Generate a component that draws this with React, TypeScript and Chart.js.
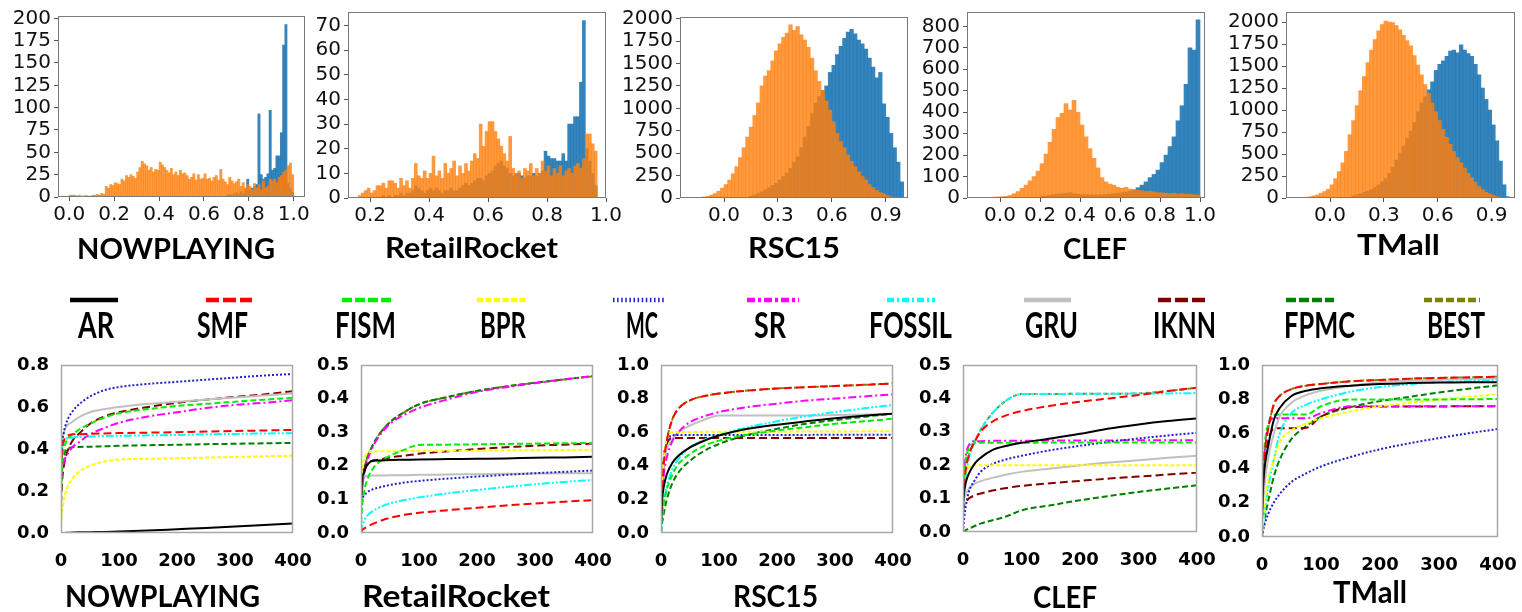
import React, { useEffect, useRef } from "react";
import { Chart, registerables } from "chart.js";

Chart.register(...registerables);

// ===================== TOP ROW: histograms (bin width, first bin edge, counts) =====================
const NP_BIN = 0.01;
const NP_ORANGE_START = 0.0;
const NP_ORANGE = [
  2, 2, 2, 1, 2, 1, 1, 2, 1, 1,
  2, 2, 3, 2, 4, 3, 12, 10, 14, 13,
  16, 15, 14, 20, 18, 24, 22, 25, 23, 21,
  28, 33, 40, 37, 35, 30, 33, 28, 31, 30,
  39, 36, 33, 30, 27, 32, 25, 28, 24, 30,
  26, 27, 24, 20, 22, 26, 19, 25, 20, 21,
  26, 20, 21, 18, 22, 24, 19, 31, 20, 17,
  14, 22, 18, 15, 17, 20, 12, 16, 10, 14,
  12, 8, 15, 10, 14, 8, 18, 10, 12, 20,
  18, 20, 16, 22, 24, 28, 30, 35, 38, 25,
];
const NP_BLUE_START = 0.7;
const NP_BLUE = [
  2, 3, 2, 4, 5, 3, 6, 4, 8, 20,
  8, 10, 12, 14, 93, 25, 20, 22, 26, 97,
  30, 32, 46, 46, 72, 170, 193, 15, 10, 5,
];

const RR_BIN = 0.01;
const RR_ORANGE_START = 0.16;
const RR_ORANGE = [
  1, 2, 3, 4, 2, 3, 5, 5, 6, 4,
  7, 7, 6, 4, 8, 5, 7, 4, 8, 14,
  9, 8, 11, 8, 10, 17, 9, 11, 8, 14,
  10, 12, 15, 9, 13, 10, 14, 11, 15, 18,
  16, 30, 21, 27, 31, 31, 27, 24, 21, 18,
  15, 25, 12, 10, 11, 8, 12, 11, 14, 9,
  12, 10, 15, 11, 13, 9, 12, 10, 13, 9,
  11, 12, 10, 13, 14, 12, 16, 26, 26, 22, 19,
];
const RR_BLUE_START = 0.16;
const RR_BLUE = [
  0, 0, 0, 0, 0, 0, 0, 0, 1, 0,
  1, 0, 1, 1, 2, 1, 2, 2, 3, 5,
  4, 3, 2, 3, 4, 3, 4, 3, 2, 3,
  3, 4, 3, 3, 4, 5, 6, 5, 6, 7,
  8, 8, 7, 9, 10, 11, 13, 14, 15, 13,
  12, 10, 9, 10, 10, 9, 8, 9, 9, 10,
  9, 10, 11, 19, 17, 16, 16, 15, 15, 18,
  15, 30, 30, 33, 33, 47, 72, 20, 15, 10, 5,
];

const RSC_BIN = 0.02;
const RSC_ORANGE_START = -0.14;
const RSC_ORANGE = [
  5, 12, 20, 32, 50, 75, 110, 150, 200, 270,
  350, 450, 560, 680, 790, 920, 1060, 1250, 1360, 1420,
  1530, 1640, 1720, 1790, 1840, 1930, 1870, 1910, 1820, 1760,
  1680, 1560, 1420, 1300, 1200, 1080, 980, 850, 720, 630,
  560, 480, 410, 350, 290, 240, 200, 150, 115, 85,
  60, 45, 28, 15,
];
const RSC_BLUE_START = 0.14;
const RSC_BLUE = [
  20, 35, 50, 70, 90, 115, 140, 165, 200, 240,
  280, 330, 400, 460, 560, 680, 800, 940, 1060, 1130,
  1200, 1250, 1400, 1480, 1600, 1690, 1780, 1850, 1880, 1830,
  1760, 1720, 1660, 1560, 1460, 1340, 1400, 1050, 900, 720,
  560, 400, 180,
];

const CLEF_BIN = 0.02;
const CLEF_ORANGE_START = -0.08;
const CLEF_ORANGE = [
  2, 3, 4, 5, 6, 8, 12, 20, 30, 45,
  60, 80, 100, 125, 160, 205, 260, 320, 375, 395,
  440, 410, 455, 400, 340, 285, 230, 185, 140, 95,
  75, 65, 60, 50, 45, 50, 42, 38, 36, 34,
  30, 32, 28, 25, 24, 22, 20, 22, 18, 20,
  17, 18, 15, 14,
];
const CLEF_BLUE_START = 0.2;
const CLEF_BLUE = [
  8, 10, 12, 15, 18, 20, 22, 25, 20, 18,
  16, 15, 14, 13, 14, 15, 16, 18, 20, 22,
  25, 28, 32, 38, 48, 60, 75, 95, 110, 130,
  165, 200, 240, 285, 360, 430, 530, 700, 690, 830,
];

const TM_BIN = 0.02;
const TM_ORANGE_START = -0.14;
const TM_ORANGE = [
  8, 15, 25, 35, 55, 75, 100, 150, 220, 300,
  400, 530, 720, 880, 1050, 1220, 1380, 1540, 1680, 1800,
  1900, 1970, 2010, 2000, 1995, 1960, 1910, 1850, 1790, 1730,
  1620, 1510, 1400, 1290, 1190, 1080, 980, 880, 780, 690,
  610, 530, 460, 400, 340, 280, 230, 180, 130, 95,
  65, 45, 28, 15,
];
const TM_BLUE_START = 0.12;
const TM_BLUE = [
  25, 38, 50, 65, 80, 95, 120, 150, 185, 220,
  280, 350, 430, 510, 590, 680, 760, 860, 980, 1080,
  1150, 1230, 1320, 1450, 1520, 1560, 1610, 1670, 1680, 1650,
  1740, 1680, 1640, 1610, 1520, 1400, 1250, 1120, 1000, 830,
  650, 420, 150, 15,
];

// tick values
const HX_TICKS_A = [0, 0.2, 0.4, 0.6, 0.8, 1.0];
const HX_TICKS_B = [0.2, 0.4, 0.6, 0.8, 1.0];
const HX_TICKS_C = [0, 0.3, 0.6, 0.9];
const HY_TICKS_NP = [0, 25, 50, 75, 100, 125, 150, 175, 200];
const HY_TICKS_RR = [0, 10, 20, 30, 40, 50, 60, 70];
const HY_TICKS_2000 = [0, 250, 500, 750, 1000, 1250, 1500, 1750, 2000];
const HY_TICKS_CLEF = [0, 100, 200, 300, 400, 500, 600, 700, 800];

// ===================== BOTTOM ROW: curves =====================
const LINE_X = [0, 2, 5, 10, 20, 30, 50, 75, 100, 150, 200, 250, 300, 350, 400];
const LX_TICKS = [0, 100, 200, 300, 400];
const LY_TICKS_08 = [0, 0.2, 0.4, 0.6, 0.8];
const LY_TICKS_05 = [0, 0.1, 0.2, 0.3, 0.4, 0.5];
const LY_TICKS_10 = [0, 0.2, 0.4, 0.6, 0.8, 1.0];

const NP_AR = [0, 0, 0, 0.001, 0.002, 0.003, 0.004, 0.005, 0.007, 0.012, 0.018, 0.024, 0.031, 0.038, 0.045];
const NP_SMF = [0.3, 0.4, 0.44, 0.46, 0.47, 0.47, 0.472, 0.474, 0.476, 0.478, 0.48, 0.483, 0.486, 0.488, 0.491];
const NP_FISM = [0.2, 0.33, 0.4, 0.44, 0.47, 0.49, 0.52, 0.55, 0.57, 0.59, 0.605, 0.615, 0.625, 0.635, 0.643];
const NP_BPR = [0.04, 0.1, 0.16, 0.21, 0.26, 0.29, 0.32, 0.34, 0.35, 0.353, 0.356, 0.359, 0.362, 0.365, 0.368];
const NP_MC = [0.3, 0.42, 0.48, 0.53, 0.58, 0.61, 0.65, 0.68, 0.695, 0.71, 0.72, 0.73, 0.74, 0.75, 0.757];
const NP_SR = [0.25, 0.3, 0.34, 0.37, 0.41, 0.43, 0.47, 0.5, 0.525, 0.555, 0.575, 0.595, 0.61, 0.62, 0.632];
const NP_FOSSIL = [0.3, 0.4, 0.43, 0.45, 0.455, 0.458, 0.46, 0.462, 0.463, 0.465, 0.467, 0.47, 0.472, 0.474, 0.476];
const NP_GRU = [0.38, 0.44, 0.48, 0.51, 0.53, 0.55, 0.575, 0.59, 0.6, 0.615, 0.625, 0.635, 0.645, 0.655, 0.665];
const NP_IKNN = [0.14, 0.25, 0.32, 0.38, 0.44, 0.47, 0.52, 0.555, 0.575, 0.6, 0.62, 0.635, 0.648, 0.66, 0.675];
const NP_FPMC = [0.2, 0.32, 0.37, 0.4, 0.408, 0.41, 0.411, 0.413, 0.415, 0.418, 0.42, 0.423, 0.425, 0.427, 0.429];

const RR_AR = [0.1, 0.16, 0.18, 0.2, 0.215, 0.216, 0.217, 0.218, 0.219, 0.22, 0.221, 0.222, 0.224, 0.225, 0.227];
const RR_SMF = [0.0, 0.008, 0.013, 0.018, 0.027, 0.034, 0.045, 0.054, 0.06, 0.068, 0.075, 0.082, 0.088, 0.093, 0.098];
const RR_FISM = [0.03, 0.08, 0.12, 0.155, 0.19, 0.21, 0.23, 0.248, 0.262, 0.263, 0.264, 0.265, 0.266, 0.267, 0.268];
const RR_BPR = [0.12, 0.18, 0.22, 0.235, 0.242, 0.243, 0.243, 0.244, 0.244, 0.245, 0.245, 0.246, 0.246, 0.247, 0.248];
const RR_MC = [0.07, 0.1, 0.11, 0.12, 0.13, 0.135, 0.143, 0.15, 0.155, 0.162, 0.168, 0.173, 0.178, 0.182, 0.186];
const RR_SR = [0.08, 0.13, 0.17, 0.21, 0.255, 0.285, 0.325, 0.352, 0.372, 0.398, 0.42, 0.434, 0.446, 0.457, 0.467];
const RR_FOSSIL = [0.0, 0.02, 0.035, 0.05, 0.065, 0.075, 0.088, 0.098, 0.106, 0.118, 0.128, 0.137, 0.145, 0.152, 0.158];
const RR_GRU = [0.13, 0.16, 0.168, 0.17, 0.171, 0.171, 0.172, 0.172, 0.173, 0.174, 0.175, 0.176, 0.177, 0.178, 0.178];
const RR_IKNN = [0.15, 0.17, 0.19, 0.205, 0.215, 0.218, 0.225, 0.23, 0.236, 0.243, 0.25, 0.255, 0.26, 0.263, 0.266];
const RR_FPMC = [0.09, 0.14, 0.18, 0.22, 0.26, 0.29, 0.33, 0.36, 0.383, 0.405, 0.423, 0.436, 0.447, 0.457, 0.467];
const RR_BEST = [0.09, 0.14, 0.18, 0.22, 0.26, 0.29, 0.33, 0.36, 0.383, 0.405, 0.423, 0.436, 0.447, 0.457, 0.467];

const RSC_AR = [0.05, 0.2, 0.28, 0.35, 0.42, 0.46, 0.51, 0.55, 0.58, 0.62, 0.645, 0.665, 0.683, 0.698, 0.71];
const RSC_SMF = [0.05, 0.25, 0.42, 0.55, 0.68, 0.74, 0.79, 0.815, 0.83, 0.848, 0.86, 0.868, 0.875, 0.882, 0.89];
const RSC_FISM = [0.0, 0.1, 0.18, 0.26, 0.35, 0.41, 0.47, 0.52, 0.55, 0.585, 0.61, 0.63, 0.65, 0.665, 0.68];
const RSC_BPR = [0.1, 0.3, 0.45, 0.56, 0.6, 0.601, 0.601, 0.602, 0.602, 0.603, 0.603, 0.604, 0.604, 0.605, 0.605];
const RSC_MC = [0.1, 0.3, 0.45, 0.54, 0.582, 0.583, 0.583, 0.583, 0.584, 0.584, 0.584, 0.584, 0.585, 0.585, 0.585];
const RSC_SR = [0.05, 0.2, 0.35, 0.45, 0.55, 0.6, 0.66, 0.695, 0.72, 0.75, 0.77, 0.788, 0.8, 0.813, 0.825];
const RSC_FOSSIL = [0.0, 0.1, 0.18, 0.28, 0.38, 0.44, 0.51, 0.555, 0.585, 0.63, 0.665, 0.695, 0.72, 0.742, 0.762];
const RSC_GRU = [0.1, 0.3, 0.42, 0.5, 0.56, 0.6, 0.64, 0.675, 0.7, 0.7, 0.7, 0.7, 0.702, 0.705, 0.708];
const RSC_IKNN = [0.1, 0.3, 0.45, 0.53, 0.565, 0.565, 0.565, 0.565, 0.565, 0.565, 0.565, 0.566, 0.566, 0.566, 0.566];
const RSC_FPMC = [0.0, 0.06, 0.12, 0.2, 0.3, 0.36, 0.43, 0.49, 0.53, 0.585, 0.62, 0.65, 0.672, 0.692, 0.71];
const RSC_BEST = [0.05, 0.25, 0.42, 0.55, 0.68, 0.74, 0.79, 0.815, 0.83, 0.848, 0.86, 0.868, 0.875, 0.882, 0.89];

const CLEF_AR = [0.08, 0.12, 0.15, 0.175, 0.205, 0.222, 0.245, 0.258, 0.267, 0.28, 0.294, 0.31, 0.322, 0.332, 0.34];
const CLEF_SMF = [0.1, 0.15, 0.19, 0.23, 0.27, 0.3, 0.33, 0.35, 0.362, 0.378, 0.39, 0.4, 0.41, 0.422, 0.432];
const CLEF_FISM = [0.1, 0.17, 0.22, 0.25, 0.266, 0.267, 0.267, 0.267, 0.267, 0.268, 0.268, 0.268, 0.268, 0.268, 0.268];
const CLEF_BPR = [0.12, 0.16, 0.18, 0.195, 0.2, 0.2, 0.2, 0.2, 0.2, 0.2, 0.2, 0.2, 0.2, 0.2, 0.2];
const CLEF_MC = [0.0, 0.04, 0.08, 0.12, 0.155, 0.18, 0.203, 0.218, 0.228, 0.245, 0.258, 0.27, 0.28, 0.289, 0.297];
const CLEF_SR = [0.1, 0.18, 0.23, 0.26, 0.272, 0.272, 0.273, 0.273, 0.273, 0.274, 0.274, 0.274, 0.275, 0.275, 0.275];
const CLEF_FOSSIL = [0.05, 0.12, 0.17, 0.22, 0.27, 0.305, 0.355, 0.395, 0.413, 0.413, 0.414, 0.414, 0.415, 0.415, 0.416];
const CLEF_GRU = [0.08, 0.1, 0.115, 0.13, 0.145, 0.152, 0.162, 0.172, 0.18, 0.19, 0.2, 0.208, 0.215, 0.222, 0.228];
const CLEF_IKNN = [0.06, 0.08, 0.09, 0.1, 0.11, 0.115, 0.124, 0.132, 0.138, 0.146, 0.153, 0.16, 0.166, 0.172, 0.178];
const CLEF_FPMC = [0.0, 0.003, 0.006, 0.01, 0.018, 0.025, 0.035, 0.047, 0.065, 0.08, 0.095, 0.108, 0.12, 0.13, 0.14];
const CLEF_BEST = [0.1, 0.15, 0.19, 0.23, 0.27, 0.305, 0.355, 0.395, 0.413, 0.413, 0.414, 0.414, 0.415, 0.422, 0.432];

const TM_AR = [0.1, 0.3, 0.42, 0.52, 0.68, 0.75, 0.82, 0.85, 0.865, 0.88, 0.89, 0.895, 0.898, 0.9, 0.9];
const TM_SMF = [0.1, 0.35, 0.5, 0.62, 0.77, 0.82, 0.86, 0.88, 0.89, 0.905, 0.913, 0.92, 0.925, 0.928, 0.932];
const TM_FISM = [0.2, 0.4, 0.55, 0.65, 0.71, 0.712, 0.712, 0.712, 0.76, 0.8, 0.8, 0.8, 0.8, 0.801, 0.802];
const TM_BPR = [0.0, 0.1, 0.2, 0.32, 0.45, 0.55, 0.62, 0.66, 0.69, 0.73, 0.76, 0.78, 0.8, 0.815, 0.83];
const TM_MC = [0.0, 0.04, 0.08, 0.13, 0.2, 0.25, 0.32, 0.37, 0.41, 0.465, 0.51, 0.545, 0.575, 0.603, 0.628];
const TM_SR = [0.1, 0.35, 0.52, 0.64, 0.69, 0.69, 0.69, 0.69, 0.72, 0.76, 0.76, 0.76, 0.76, 0.76, 0.761];
const TM_FOSSIL = [0.0, 0.08, 0.16, 0.28, 0.45, 0.6, 0.72, 0.77, 0.8, 0.845, 0.872, 0.888, 0.9, 0.906, 0.912];
const TM_GRU = [0.05, 0.2, 0.32, 0.45, 0.6, 0.7, 0.78, 0.825, 0.85, 0.88, 0.9, 0.908, 0.914, 0.918, 0.921];
const TM_IKNN = [0.1, 0.3, 0.45, 0.55, 0.63, 0.632, 0.632, 0.635, 0.7, 0.755, 0.758, 0.758, 0.759, 0.76, 0.76];
const TM_FPMC = [0.0, 0.06, 0.12, 0.2, 0.35, 0.45, 0.57, 0.645, 0.7, 0.755, 0.79, 0.815, 0.84, 0.862, 0.882];
const TM_BEST = [0.1, 0.35, 0.5, 0.62, 0.77, 0.82, 0.86, 0.88, 0.89, 0.905, 0.913, 0.92, 0.925, 0.928, 0.932];

const SERIES_NAMES = ["AR", "SMF", "FISM", "BPR", "MC", "SR", "FOSSIL", "GRU", "IKNN", "FPMC", "BEST"];
const DATASET_NAMES = ["NOWPLAYING", "RetailRocket", "RSC15", "CLEF", "TMall"];

// ===================== styles =====================
const STYLE: Record<string, { color: string; dash: number[]; legendDash: string; width: number }> = {
  AR: { color: "#000000", dash: [], legendDash: "", width: 2 },
  SMF: { color: "#ff0000", dash: [8, 4], legendDash: "13 4", width: 2 },
  FISM: { color: "#00ee00", dash: [6, 3], legendDash: "10 3", width: 2 },
  BPR: { color: "#ffff00", dash: [4, 2], legendDash: "6 2.5", width: 2 },
  MC: { color: "#2020c8", dash: [2, 2], legendDash: "1.5 2.6", width: 2 },
  SR: { color: "#ff00ff", dash: [8, 3, 2, 3], legendDash: "8 3 3 3", width: 2 },
  FOSSIL: { color: "#00ffff", dash: [8, 2, 2, 2, 2, 2], legendDash: "7 3 2 3", width: 2 },
  GRU: { color: "#c0c0c0", dash: [], legendDash: "", width: 2 },
  IKNN: { color: "#800000", dash: [8, 4], legendDash: "13 4", width: 2 },
  FPMC: { color: "#008000", dash: [6, 3], legendDash: "10 3", width: 2 },
  BEST: { color: "#808000", dash: [4, 3], legendDash: "8 3", width: 2 },
};

type Rect = { l: number; t: number; r: number; b: number };
type Geo = { axW: number; padT: number; padR: number; axH: number };

const TOP_GEO: Geo = { axW: 72, padT: 10, padR: 22, axH: 40 };
const BOT_GEO: Geo = { axW: 62, padT: 12, padR: 24, axH: 36 };

const framePlugin = {
  id: "frame",
  afterDraw(chart: any, _args: any, opts: any) {
    const { ctx, chartArea: a } = chart;
    ctx.save();
    ctx.strokeStyle = opts.color || "#888";
    ctx.lineWidth = opts.width || 1;
    ctx.strokeRect(a.left + 0.5, a.top + 0.5, a.right - a.left - 1, a.bottom - a.top - 1);
    ctx.restore();
  },
};

const binPoints = (start: number, bin: number, vals: number[]) =>
  vals.map((v, i) => ({ x: Math.round((start + (i + 0.5) * bin) * 10000) / 10000, y: v }));

const fix1 = (v: number) => (Math.abs(v) < 1e-9 ? 0 : v).toFixed(1);
const setTicks = (vals: number[]) => (s: any) => { s.ticks = vals.map((v) => ({ value: v })); };

type HistSpec = {
  rect: Rect; xMin: number; xMax: number; xTicks: number[]; yMax: number; yTicks: number[];
  bin: number; oStart: number; orange: number[]; bStart: number; blue: number[];
};

const HISTS: HistSpec[] = [
  { rect: { l: 58, t: 16, r: 305, b: 197 }, xMin: -0.05, xMax: 1.05, xTicks: HX_TICKS_A, yMax: 202.6, yTicks: HY_TICKS_NP, bin: NP_BIN, oStart: NP_ORANGE_START, orange: NP_ORANGE, bStart: NP_BLUE_START, blue: NP_BLUE },
  { rect: { l: 348, t: 12, r: 606, b: 198 }, xMin: 0.125, xMax: 1.0, xTicks: HX_TICKS_B, yMax: 75.5, yTicks: HY_TICKS_RR, bin: RR_BIN, oStart: RR_ORANGE_START, orange: RR_ORANGE, bStart: RR_BLUE_START, blue: RR_BLUE },
  { rect: { l: 680, t: 17, r: 908, b: 198 }, xMin: -0.245, xMax: 1.024, xTicks: HX_TICKS_C, yMax: 2018, yTicks: HY_TICKS_2000, bin: RSC_BIN, oStart: RSC_ORANGE_START, orange: RSC_ORANGE, bStart: RSC_BLUE_START, blue: RSC_BLUE },
  { rect: { l: 967, t: 12, r: 1205, b: 198 }, xMin: -0.165, xMax: 1.025, xTicks: HX_TICKS_A, yMax: 867, yTicks: HY_TICKS_CLEF, bin: CLEF_BIN, oStart: CLEF_ORANGE_START, orange: CLEF_ORANGE, bStart: CLEF_BLUE_START, blue: CLEF_BLUE },
  { rect: { l: 1286, t: 12, r: 1515, b: 198 }, xMin: -0.245, xMax: 1.03, xTicks: HX_TICKS_C, yMax: 2114, yTicks: HY_TICKS_2000, bin: TM_BIN, oStart: TM_ORANGE_START, orange: TM_ORANGE, bStart: TM_BLUE_START, blue: TM_BLUE },
];

type LineSpec = { rect: Rect; yMax: number; yTicks: number[]; series: Record<string, number[]> };

const LINES: LineSpec[] = [
  { rect: { l: 61, t: 365, r: 293, b: 533 }, yMax: 0.8, yTicks: LY_TICKS_08, series: { AR: NP_AR, SMF: NP_SMF, FISM: NP_FISM, BPR: NP_BPR, MC: NP_MC, SR: NP_SR, FOSSIL: NP_FOSSIL, GRU: NP_GRU, IKNN: NP_IKNN, FPMC: NP_FPMC } },
  { rect: { l: 361, t: 365, r: 593, b: 533 }, yMax: 0.5, yTicks: LY_TICKS_05, series: { AR: RR_AR, SMF: RR_SMF, FISM: RR_FISM, BPR: RR_BPR, MC: RR_MC, SR: RR_SR, FOSSIL: RR_FOSSIL, GRU: RR_GRU, IKNN: RR_IKNN, FPMC: RR_FPMC, BEST: RR_BEST } },
  { rect: { l: 661, t: 365, r: 893, b: 533 }, yMax: 1.0, yTicks: LY_TICKS_10, series: { AR: RSC_AR, SMF: RSC_SMF, FISM: RSC_FISM, BPR: RSC_BPR, MC: RSC_MC, SR: RSC_SR, FOSSIL: RSC_FOSSIL, GRU: RSC_GRU, IKNN: RSC_IKNN, FPMC: RSC_FPMC, BEST: RSC_BEST } },
  { rect: { l: 963, t: 365, r: 1197, b: 532 }, yMax: 0.5, yTicks: LY_TICKS_05, series: { AR: CLEF_AR, SMF: CLEF_SMF, FISM: CLEF_FISM, BPR: CLEF_BPR, MC: CLEF_MC, SR: CLEF_SR, FOSSIL: CLEF_FOSSIL, GRU: CLEF_GRU, IKNN: CLEF_IKNN, FPMC: CLEF_FPMC, BEST: CLEF_BEST } },
  { rect: { l: 1262, t: 365, r: 1498, b: 537 }, yMax: 1.0, yTicks: LY_TICKS_10, series: { AR: TM_AR, SMF: TM_SMF, FISM: TM_FISM, BPR: TM_BPR, MC: TM_MC, SR: TM_SR, FOSSIL: TM_FOSSIL, GRU: TM_GRU, IKNN: TM_IKNN, FPMC: TM_FPMC, BEST: TM_BEST } },
];

// Title layout (left x, text width, baseline y, font size)
const TOP_TITLES = [
  { x: 77, w: 198, y: 259, s: 29 },
  { x: 385, w: 173, y: 258, s: 29 },
  { x: 748, w: 92, y: 258, s: 29 },
  { x: 1063, w: 64, y: 259, s: 29 },
  { x: 1357, w: 83, y: 255, s: 29 },
];
const BOT_TITLES = [
  { x: 65, w: 195, y: 607, s: 30 },
  { x: 362, w: 188, y: 607, s: 30 },
  { x: 733, w: 85, y: 607, s: 30 },
  { x: 1033, w: 64, y: 608, s: 30 },
  { x: 1333, w: 74, y: 603, s: 30 },
];
// Legend layout (line x1, x2, label left, label width)
const LEGEND_LAYOUT = [
  { x1: 70, x2: 118, lx: 78, lw: 36 },
  { x1: 206, x2: 252, lx: 197, lw: 51 },
  { x1: 342, x2: 391, lx: 335, lw: 61 },
  { x1: 477, x2: 526, lx: 480, lw: 46 },
  { x1: 613, x2: 664, lx: 626, lw: 32 },
  { x1: 747, x2: 799, lx: 754, lw: 32 },
  { x1: 887, x2: 935, lx: 869, lw: 83 },
  { x1: 1024, x2: 1071, lx: 1025, lw: 53 },
  { x1: 1158, x2: 1206, lx: 1153, lw: 63 },
  { x1: 1286, x2: 1334, lx: 1284, lw: 71 },
  { x1: 1424, x2: 1480, lx: 1427, lw: 58 },
];

const fitX = (g: Geo) => (s: any) => { s.height = g.axH; s.paddingLeft = 0; s.paddingRight = 0; };
const fitY = (g: Geo) => (s: any) => { s.width = g.axW; s.paddingTop = 0; s.paddingBottom = 0; };

function histConfig(h: HistSpec, g: Geo) {
  const font = { family: "'DejaVu Sans', sans-serif", size: 20 };
  return {
    type: "bar",
    data: {
      datasets: [
        { data: binPoints(h.oStart, h.bin, h.orange), backgroundColor: "rgba(255,127,14,0.8)", grouped: false, barPercentage: 1, categoryPercentage: 1, borderWidth: 0, order: 0 },
        { data: binPoints(h.bStart, h.bin, h.blue), backgroundColor: "rgba(31,119,180,0.9)", grouped: false, barPercentage: 1, categoryPercentage: 1, borderWidth: 0, order: 1 },
      ],
    },
    options: {
      responsive: false, animation: false, devicePixelRatio: 1,
      layout: { padding: { left: 0, top: g.padT, right: g.padR, bottom: 0 } },
      plugins: { legend: { display: false }, tooltip: { enabled: false }, frame: { color: "#7a7a7a", width: 1 } },
      scales: {
        x: {
          type: "linear", min: h.xMin, max: h.xMax, offset: false,
          grid: { display: true, offset: false, drawOnChartArea: false, drawTicks: true, tickLength: 4, color: "#555" },
          border: { display: false },
          afterBuildTicks: setTicks(h.xTicks),
          ticks: { autoSkip: false, maxRotation: 0, minRotation: 0, padding: 2, color: "#111", font, callback: (v: number) => fix1(v) },
          afterFit: fitX(g),
        },
        y: {
          type: "linear", min: 0, max: h.yMax,
          grid: { display: true, drawOnChartArea: false, drawTicks: true, tickLength: 4, color: "#555" },
          border: { display: false },
          afterBuildTicks: setTicks(h.yTicks),
          ticks: { autoSkip: false, padding: 3, color: "#111", font, callback: (v: number) => String(Math.round(v)) },
          afterFit: fitY(g),
        },
      },
    },
    plugins: [framePlugin],
  };
}

function lineConfig(spec: LineSpec, g: Geo) {
  const font = { family: "'DejaVu Sans', sans-serif", size: 18, weight: "bold" };
  const datasets = SERIES_NAMES.filter((n) => spec.series[n]).map((n) => {
    const st = STYLE[n];
    return {
      label: n,
      data: LINE_X.map((x, i) => ({ x, y: spec.series[n][i] })),
      borderColor: st.color,
      borderWidth: st.width,
      borderDash: st.dash,
      pointRadius: 0,
      fill: false,
      cubicInterpolationMode: "monotone",
      order: n === "BEST" ? 1 : 0,
    };
  });
  return {
    type: "line",
    data: { datasets },
    options: {
      responsive: false, animation: false, devicePixelRatio: 1,
      layout: { padding: { left: 0, top: g.padT, right: g.padR, bottom: 0 } },
      plugins: { legend: { display: false }, tooltip: { enabled: false }, frame: { color: "#a8a8a8", width: 1.5 } },
      scales: {
        x: {
          type: "linear", min: LX_TICKS[0], max: LX_TICKS[LX_TICKS.length - 1],
          grid: { display: false, drawTicks: false },
          border: { display: false },
          afterBuildTicks: setTicks(LX_TICKS),
          ticks: { autoSkip: false, maxRotation: 0, padding: 18, color: "#000", font, callback: (v: number) => String(v) },
          afterFit: fitX(g),
        },
        y: {
          type: "linear", min: 0, max: spec.yMax,
          grid: { display: false, drawTicks: false },
          border: { display: false },
          afterBuildTicks: setTicks(spec.yTicks),
          ticks: { autoSkip: false, padding: 12, color: "#000", font, callback: (v: number) => fix1(v) },
          afterFit: fitY(g),
        },
      },
    },
    plugins: [framePlugin],
  };
}

const ChartBox: React.FC<{ rect: Rect; geo: Geo; build: () => any }> = ({ rect, geo, build }) => {
  const ref = useRef<HTMLCanvasElement | null>(null);
  const x = rect.l - geo.axW;
  const y = rect.t - geo.padT;
  const w = rect.r - rect.l + geo.axW + geo.padR;
  const h = rect.b - rect.t + geo.padT + geo.axH;
  useEffect(() => {
    const chart = new Chart(ref.current as HTMLCanvasElement, build());
    return () => chart.destroy();
  }, []);
  return <canvas ref={ref} width={w} height={h} style={{ position: "absolute", left: x, top: y, width: w, height: h }} />;
};

const TITLE_FONT = "Lato, 'Open Sans', sans-serif";

export default function App() {
  return (
    <div style={{ position: "absolute", left: 0, top: 0, width: 1522, height: 612, background: "#fff", overflow: "hidden" }}>
      {HISTS.map((h, i) => (
        <ChartBox key={"h" + i} rect={h.rect} geo={TOP_GEO} build={() => histConfig(h, TOP_GEO)} />
      ))}
      {LINES.map((l, i) => (
        <ChartBox key={"l" + i} rect={l.rect} geo={BOT_GEO} build={() => lineConfig(l, BOT_GEO)} />
      ))}
      <svg width={1522} height={612} style={{ position: "absolute", left: 0, top: 0, pointerEvents: "none" }}>
        {DATASET_NAMES.map((n, i) => (
          <text key={"tt" + i} x={TOP_TITLES[i].x} y={TOP_TITLES[i].y} fontFamily={TITLE_FONT} fontWeight={700}
            fontSize={TOP_TITLES[i].s} textLength={TOP_TITLES[i].w} lengthAdjust="spacingAndGlyphs" fill="#000">{n}</text>
        ))}
        {DATASET_NAMES.map((n, i) => (
          <text key={"bt" + i} x={BOT_TITLES[i].x} y={BOT_TITLES[i].y} fontFamily={TITLE_FONT} fontWeight={700}
            fontSize={BOT_TITLES[i].s} textLength={BOT_TITLES[i].w} lengthAdjust="spacingAndGlyphs" fill="#000">{n}</text>
        ))}
        {SERIES_NAMES.map((n, i) => {
          const L = LEGEND_LAYOUT[i];
          const st = STYLE[n];
          return (
            <g key={"lg" + i}>
              <line x1={L.x1} x2={L.x2} y1={300} y2={300} stroke={st.color} strokeWidth={4.5}
                strokeDasharray={st.legendDash || undefined} />
              <text x={L.lx} y={338} fontFamily={TITLE_FONT} fontWeight={700} fontSize={36}
                textLength={L.lw} lengthAdjust="spacingAndGlyphs" fill="#000">{n}</text>
            </g>
          );
        })}
      </svg>
    </div>
  );
}
